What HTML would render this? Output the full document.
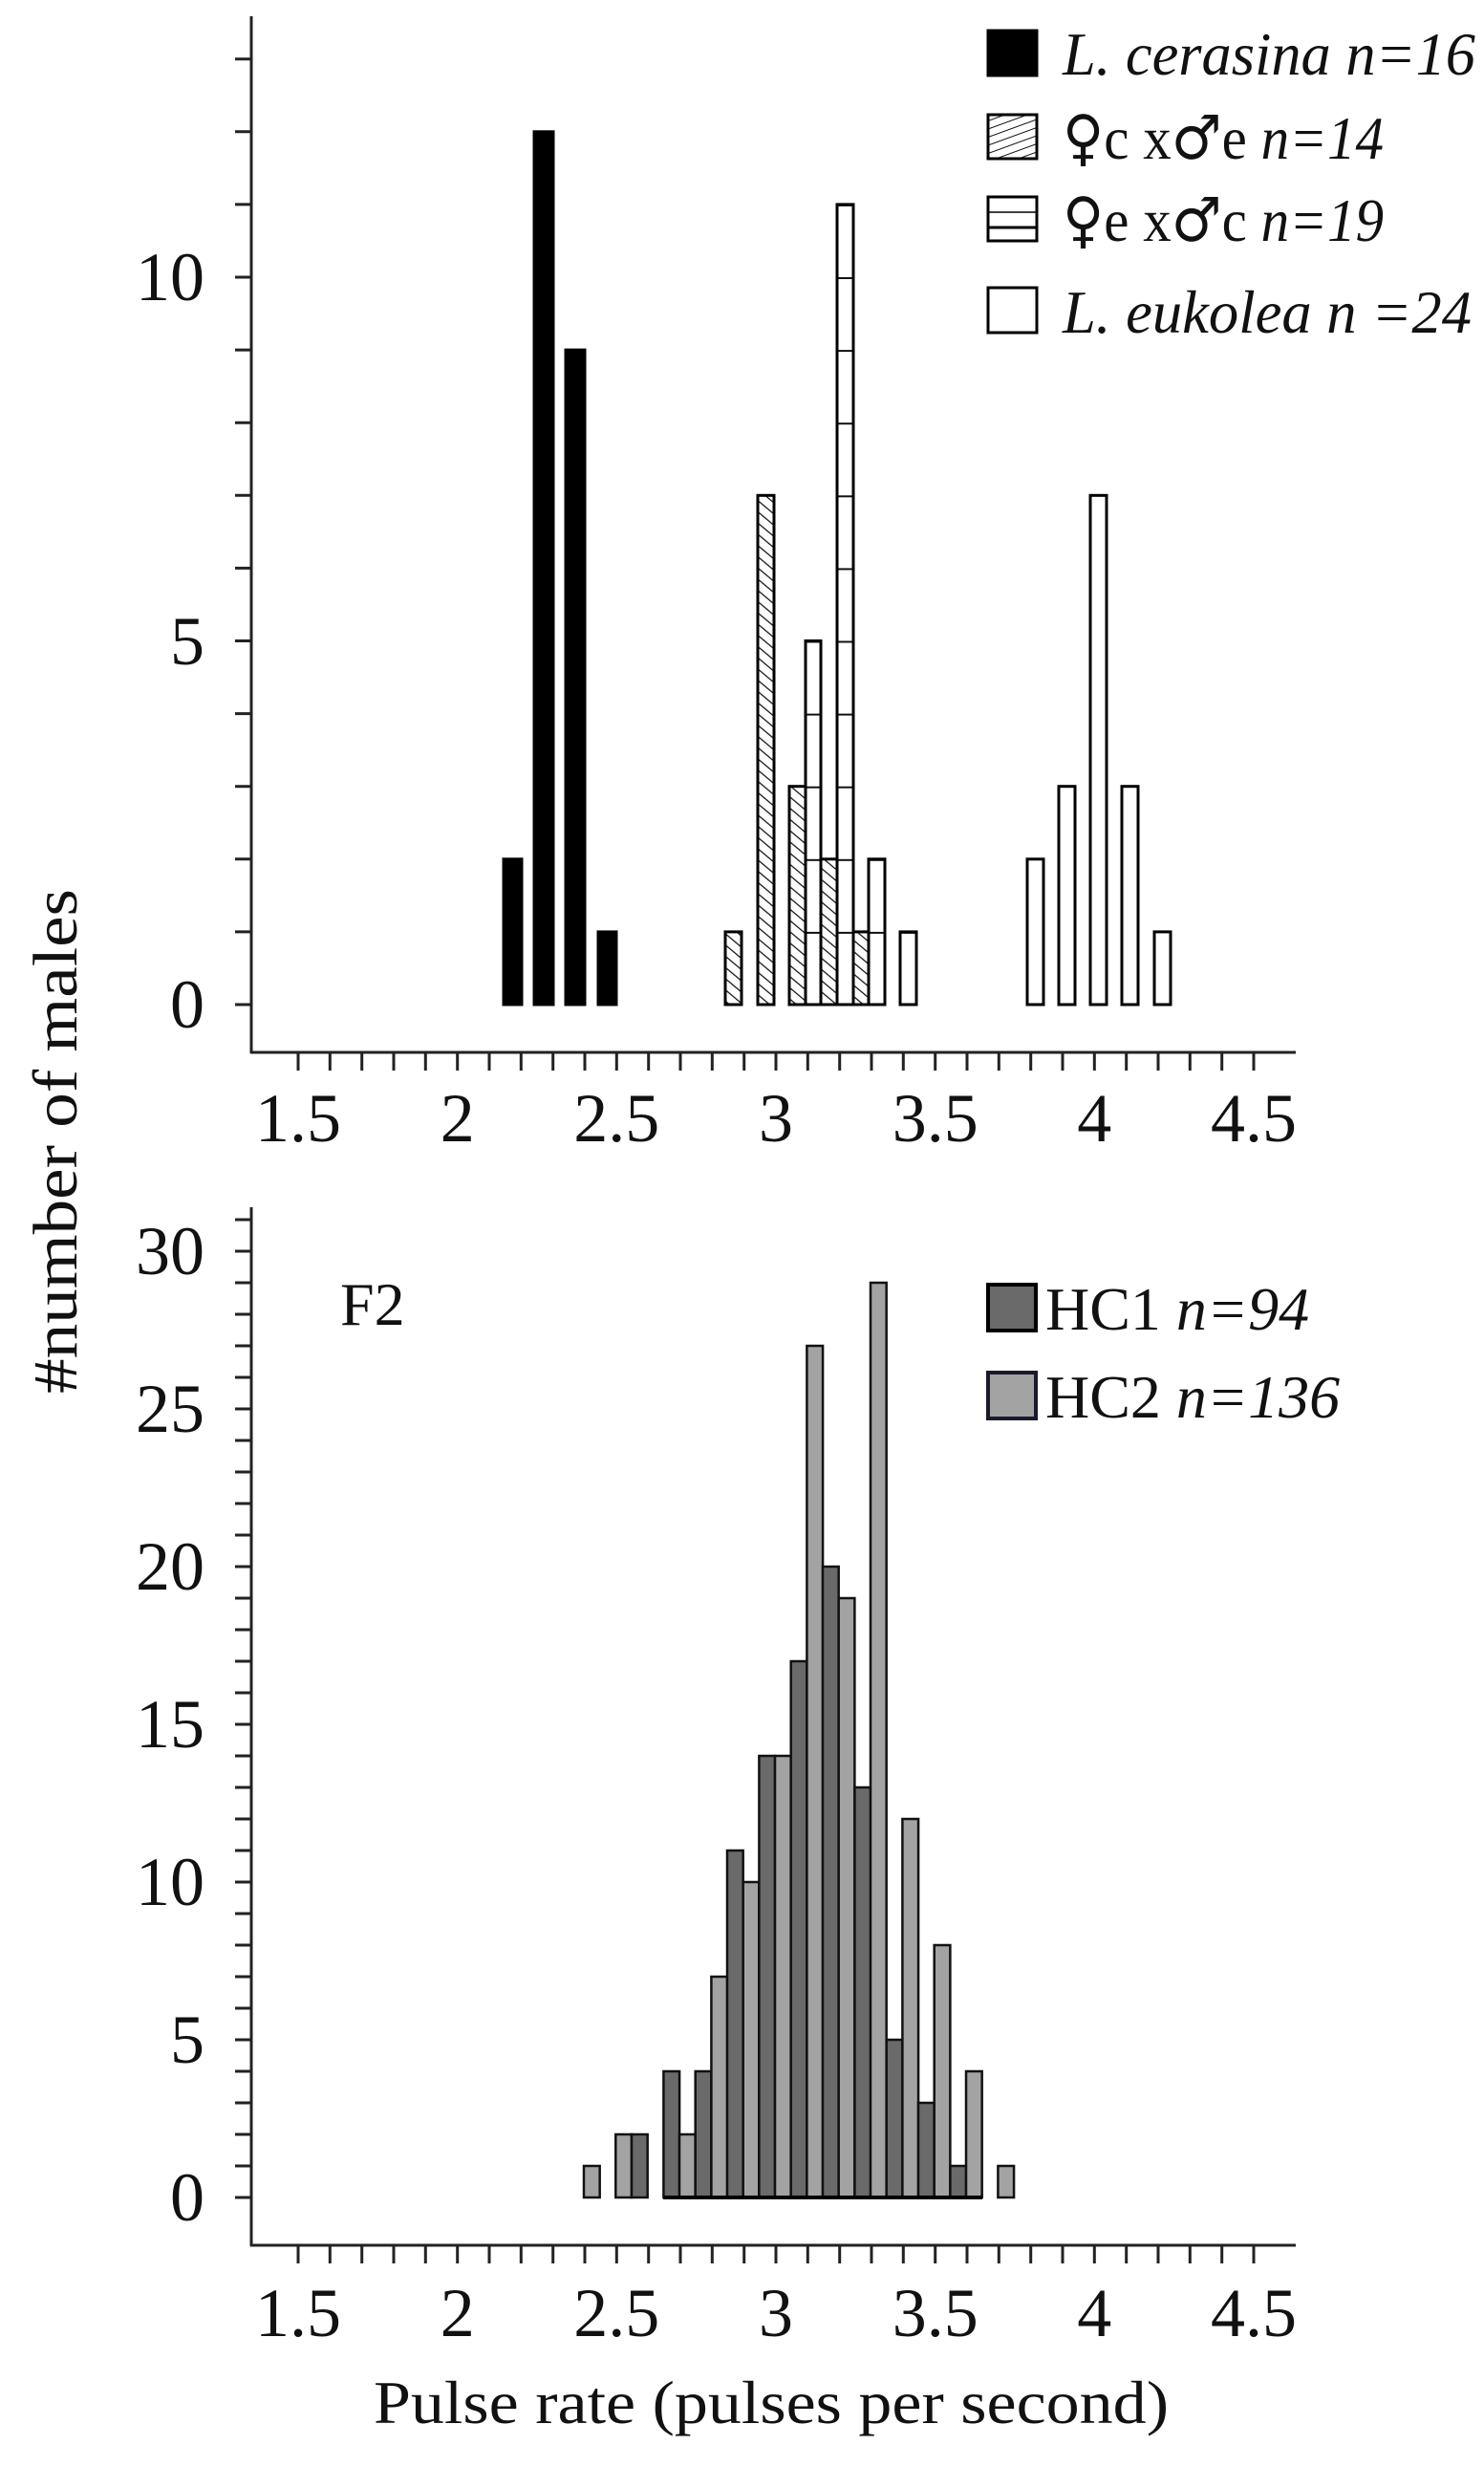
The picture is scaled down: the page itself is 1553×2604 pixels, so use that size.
<!DOCTYPE html>
<html><head><meta charset="utf-8"><style>
html,body{margin:0;padding:0;background:#fff;}
svg{display:block;}
text{font-family:"Liberation Serif","DejaVu Serif",serif;fill:#111;}
.sym{font-family:"DejaVu Sans",sans-serif;font-size:64px;}
</style></head><body>
<svg width="1553" height="2604" viewBox="0 0 1553 2604" xmlns="http://www.w3.org/2000/svg">
<defs>
<pattern id="hatch" patternUnits="userSpaceOnUse" width="9" height="9" patternTransform="rotate(-50)">
<rect width="9" height="9" fill="#fff"/><line x1="0" y1="0" x2="0" y2="9" stroke="#111" stroke-width="2.5"/>
</pattern>
<pattern id="hstripe" patternUnits="userSpaceOnUse" x="0" y="1051" width="20" height="76.1">
<rect width="20" height="76.1" fill="#fff"/><line x1="0" y1="0" x2="20" y2="0" stroke="#111" stroke-width="4"/>
</pattern>
<pattern id="hatch2" patternUnits="userSpaceOnUse" width="8" height="8" patternTransform="rotate(-20)">
<rect width="8" height="8" fill="#fff"/><line x1="0" y1="0" x2="8" y2="0" stroke="#111" stroke-width="2"/>
</pattern>
</defs>

<g stroke="#222" stroke-width="3" fill="none">
<line x1="263" y1="17" x2="263" y2="1102"/>
<line x1="262" y1="1101" x2="1356" y2="1101"/>
</g>
<g stroke="#222" stroke-width="3">
<line x1="246" y1="1051" x2="263" y2="1051"/><line x1="246" y1="974.9" x2="263" y2="974.9"/>
<line x1="246" y1="898.8" x2="263" y2="898.8"/><line x1="246" y1="822.7" x2="263" y2="822.7"/>
<line x1="246" y1="746.6" x2="263" y2="746.6"/><line x1="246" y1="670.5" x2="263" y2="670.5"/>
<line x1="246" y1="594.4" x2="263" y2="594.4"/><line x1="246" y1="518.3" x2="263" y2="518.3"/>
<line x1="246" y1="442.2" x2="263" y2="442.2"/><line x1="246" y1="366.1" x2="263" y2="366.1"/>
<line x1="246" y1="290" x2="263" y2="290"/><line x1="246" y1="213.9" x2="263" y2="213.9"/>
<line x1="246" y1="137.8" x2="263" y2="137.8"/><line x1="246" y1="61.7" x2="263" y2="61.7"/>
</g>
<g stroke="#222" stroke-width="3" id="xt1">
<line x1="312" y1="1101" x2="312" y2="1120"/><line x1="345.3" y1="1101" x2="345.3" y2="1120"/>
<line x1="378.7" y1="1101" x2="378.7" y2="1120"/><line x1="412" y1="1101" x2="412" y2="1120"/>
<line x1="445.3" y1="1101" x2="445.3" y2="1120"/><line x1="478.7" y1="1101" x2="478.7" y2="1120"/>
<line x1="512" y1="1101" x2="512" y2="1120"/><line x1="545.3" y1="1101" x2="545.3" y2="1120"/>
<line x1="578.7" y1="1101" x2="578.7" y2="1120"/><line x1="612" y1="1101" x2="612" y2="1120"/>
<line x1="645.3" y1="1101" x2="645.3" y2="1120"/><line x1="678.7" y1="1101" x2="678.7" y2="1120"/>
<line x1="712" y1="1101" x2="712" y2="1120"/><line x1="745.3" y1="1101" x2="745.3" y2="1120"/>
<line x1="778.7" y1="1101" x2="778.7" y2="1120"/><line x1="812" y1="1101" x2="812" y2="1120"/>
<line x1="845.3" y1="1101" x2="845.3" y2="1120"/><line x1="878.7" y1="1101" x2="878.7" y2="1120"/>
<line x1="912" y1="1101" x2="912" y2="1120"/><line x1="945.3" y1="1101" x2="945.3" y2="1120"/>
<line x1="978.7" y1="1101" x2="978.7" y2="1120"/><line x1="1012" y1="1101" x2="1012" y2="1120"/>
<line x1="1045.3" y1="1101" x2="1045.3" y2="1120"/><line x1="1078.7" y1="1101" x2="1078.7" y2="1120"/>
<line x1="1112" y1="1101" x2="1112" y2="1120"/><line x1="1145.3" y1="1101" x2="1145.3" y2="1120"/>
<line x1="1178.7" y1="1101" x2="1178.7" y2="1120"/><line x1="1212" y1="1101" x2="1212" y2="1120"/>
<line x1="1245.3" y1="1101" x2="1245.3" y2="1120"/><line x1="1278.7" y1="1101" x2="1278.7" y2="1120"/>
<line x1="1312" y1="1101" x2="1312" y2="1120"/>
</g>
<g font-size="72" text-anchor="end">
<text x="214" y="1075">0</text><text x="214" y="695">5</text><text x="214" y="314">10</text>
</g>
<g font-size="72" text-anchor="middle">
<text x="312" y="1194">1.5</text><text x="478.7" y="1194">2</text><text x="645.3" y="1194">2.5</text>
<text x="812" y="1194">3</text><text x="978.7" y="1194">3.5</text><text x="1145.3" y="1194">4</text><text x="1312" y="1194">4.5</text>
</g>

<g stroke="#000" stroke-width="3">
<rect x="527" y="898.8" width="19" height="152.2" fill="#000"/>
<rect x="559" y="137.8" width="20" height="913.2" fill="#000"/>
<rect x="592" y="366.1" width="20" height="684.9" fill="#000"/>
<rect x="626" y="974.9" width="19" height="76.1" fill="#000"/>

<rect x="759" y="974.9" width="17" height="76.1" fill="url(#hatch)"/>
<rect x="793" y="518.3" width="17" height="532.7" fill="url(#hatch)"/>
<rect x="826" y="822.7" width="17" height="228.3" fill="url(#hatch)"/>
<rect x="859" y="898.8" width="17" height="152.2" fill="url(#hatch)"/>
<rect x="893" y="974.9" width="17" height="76.1" fill="url(#hatch)"/>

<rect x="843" y="670.5" width="16" height="380.5" fill="url(#hstripe)"/>
<rect x="876" y="213.9" width="17" height="837.1" fill="url(#hstripe)"/>
<rect x="909" y="898.8" width="17" height="152.2" fill="url(#hstripe)"/>
<rect x="942" y="974.9" width="17" height="76.1" fill="url(#hstripe)"/>

<rect x="1075" y="898.8" width="17" height="152.2" fill="#fff"/>
<rect x="1108" y="822.7" width="17" height="228.3" fill="#fff"/>
<rect x="1141" y="518.3" width="17" height="532.7" fill="#fff"/>
<rect x="1174" y="822.7" width="17" height="228.3" fill="#fff"/>
<rect x="1208" y="974.9" width="17" height="76.1" fill="#fff"/>
</g>

<g stroke="#000" stroke-width="3">
<rect x="1034" y="32" width="51" height="47" fill="#000"/>
<rect x="1034" y="120" width="51" height="46" fill="url(#hatch2)"/>
<rect x="1034" y="206" width="51" height="46" fill="#fff"/>
<line x1="1034" y1="222" x2="1085" y2="222" stroke-width="1.5"/>
<line x1="1034" y1="238" x2="1085" y2="238" stroke-width="3"/>
<rect x="1034" y="301" width="51" height="47" fill="#fff"/>
</g>
<g font-size="64">
<text x="1112" y="78" font-style="italic" textLength="432" lengthAdjust="spacingAndGlyphs">L. cerasina n=16</text>
<text x="1112" y="166" textLength="336" lengthAdjust="spacingAndGlyphs"><tspan class="sym">♀</tspan>c x<tspan class="sym">♂</tspan>e <tspan font-style="italic">n=14</tspan></text>
<text x="1112" y="252" textLength="336" lengthAdjust="spacingAndGlyphs"><tspan class="sym">♀</tspan>e x<tspan class="sym">♂</tspan>c <tspan font-style="italic">n=19</tspan></text>
<text x="1112" y="348" font-style="italic" textLength="428" lengthAdjust="spacingAndGlyphs">L. eukolea n =24</text>
</g>

<text font-size="66" text-anchor="middle" transform="translate(80,1194) rotate(-90)" textLength="528" lengthAdjust="spacingAndGlyphs">#number of males</text>

<g stroke="#222" stroke-width="3" fill="none">
<line x1="263" y1="1263" x2="263" y2="2350"/>
<line x1="262" y1="2349" x2="1356" y2="2349"/>
</g>
<g stroke="#222" stroke-width="3">
<line x1="246" y1="2299" x2="263" y2="2299"/><line x1="246" y1="2266" x2="263" y2="2266"/>
<line x1="246" y1="2233" x2="263" y2="2233"/><line x1="246" y1="2200" x2="263" y2="2200"/>
<line x1="246" y1="2167" x2="263" y2="2167"/><line x1="246" y1="2134" x2="263" y2="2134"/>
<line x1="246" y1="2101" x2="263" y2="2101"/><line x1="246" y1="2068" x2="263" y2="2068"/>
<line x1="246" y1="2035" x2="263" y2="2035"/><line x1="246" y1="2002" x2="263" y2="2002"/>
<line x1="246" y1="1969" x2="263" y2="1969"/><line x1="246" y1="1936" x2="263" y2="1936"/>
<line x1="246" y1="1903" x2="263" y2="1903"/><line x1="246" y1="1870" x2="263" y2="1870"/>
<line x1="246" y1="1837" x2="263" y2="1837"/><line x1="246" y1="1804" x2="263" y2="1804"/>
<line x1="246" y1="1771" x2="263" y2="1771"/><line x1="246" y1="1738" x2="263" y2="1738"/>
<line x1="246" y1="1705" x2="263" y2="1705"/><line x1="246" y1="1672" x2="263" y2="1672"/>
<line x1="246" y1="1639" x2="263" y2="1639"/><line x1="246" y1="1606" x2="263" y2="1606"/>
<line x1="246" y1="1573" x2="263" y2="1573"/><line x1="246" y1="1540" x2="263" y2="1540"/>
<line x1="246" y1="1507" x2="263" y2="1507"/><line x1="246" y1="1474" x2="263" y2="1474"/>
<line x1="246" y1="1441" x2="263" y2="1441"/><line x1="246" y1="1408" x2="263" y2="1408"/>
<line x1="246" y1="1375" x2="263" y2="1375"/><line x1="246" y1="1342" x2="263" y2="1342"/>
<line x1="246" y1="1309" x2="263" y2="1309"/><line x1="246" y1="1276" x2="263" y2="1276"/>
</g>
<use href="#xt1" transform="translate(0,1248)"/>
<g font-size="72" text-anchor="end">
<text x="214" y="2323">0</text><text x="214" y="2158">5</text><text x="214" y="1993">10</text>
<text x="214" y="1828">15</text><text x="214" y="1663">20</text><text x="214" y="1498">25</text><text x="214" y="1333">30</text>
</g>
<g font-size="72" text-anchor="middle">
<text x="312" y="2444">1.5</text><text x="478.7" y="2444">2</text><text x="645.3" y="2444">2.5</text>
<text x="812" y="2444">3</text><text x="978.7" y="2444">3.5</text><text x="1145.3" y="2444">4</text><text x="1312" y="2444">4.5</text>
</g>
<text x="807" y="2535" font-size="64" text-anchor="middle" textLength="832" lengthAdjust="spacingAndGlyphs">Pulse rate (pulses per second)</text>

<text x="356" y="1386" font-size="64">F2</text>

<g stroke="#111" stroke-width="2.5">
<rect x="611" y="2266" width="16.67" height="33" fill="#a3a3a3"/>
<rect x="644.3" y="2233" width="16.67" height="66" fill="#a3a3a3"/>
<rect x="661" y="2233" width="16.67" height="66" fill="#6a6a6a"/>
<rect x="694.4" y="2167" width="16.67" height="132" fill="#6a6a6a"/>
<rect x="711" y="2233" width="16.67" height="66" fill="#a3a3a3"/>
<rect x="727.7" y="2167" width="16.67" height="132" fill="#6a6a6a"/>
<rect x="744.4" y="2068" width="16.67" height="231" fill="#a3a3a3"/>
<rect x="761" y="1936" width="16.67" height="363" fill="#6a6a6a"/>
<rect x="777.7" y="1969" width="16.67" height="330" fill="#a3a3a3"/>
<rect x="794.4" y="1837" width="16.67" height="462" fill="#6a6a6a"/>
<rect x="811" y="1837" width="16.67" height="462" fill="#a3a3a3"/>
<rect x="827.7" y="1738" width="16.67" height="561" fill="#6a6a6a"/>
<rect x="844.4" y="1408" width="16.67" height="891" fill="#a3a3a3"/>
<rect x="861" y="1639" width="16.67" height="660" fill="#6a6a6a"/>
<rect x="877.7" y="1672" width="16.67" height="627" fill="#a3a3a3"/>
<rect x="894.4" y="1870" width="16.67" height="429" fill="#6a6a6a"/>
<rect x="911" y="1342" width="16.67" height="957" fill="#a3a3a3"/>
<rect x="927.7" y="2134" width="16.67" height="165" fill="#6a6a6a"/>
<rect x="944.4" y="1903" width="16.67" height="396" fill="#a3a3a3"/>
<rect x="961" y="2200" width="16.67" height="99" fill="#6a6a6a"/>
<rect x="977.7" y="2035" width="16.67" height="264" fill="#a3a3a3"/>
<rect x="994.4" y="2266" width="16.67" height="33" fill="#6a6a6a"/>
<rect x="1011" y="2167" width="16.67" height="132" fill="#a3a3a3"/>
<rect x="1044.4" y="2266" width="16.67" height="33" fill="#a3a3a3"/>
</g>
<line x1="694" y1="2299" x2="1028" y2="2299" stroke="#000" stroke-width="4"/>

<rect x="1034" y="1344" width="50" height="48" fill="#6a6a6a" stroke="#000" stroke-width="4"/>
<rect x="1034" y="1436" width="50" height="48" fill="#a3a3a3" stroke="#1a1a2e" stroke-width="4"/>
<g font-size="64">
<text x="1094" y="1391">HC1 <tspan font-style="italic">n=94</tspan></text>
<text x="1094" y="1483">HC2 <tspan font-style="italic">n=136</tspan></text>
</g>
</svg>
</body></html>
